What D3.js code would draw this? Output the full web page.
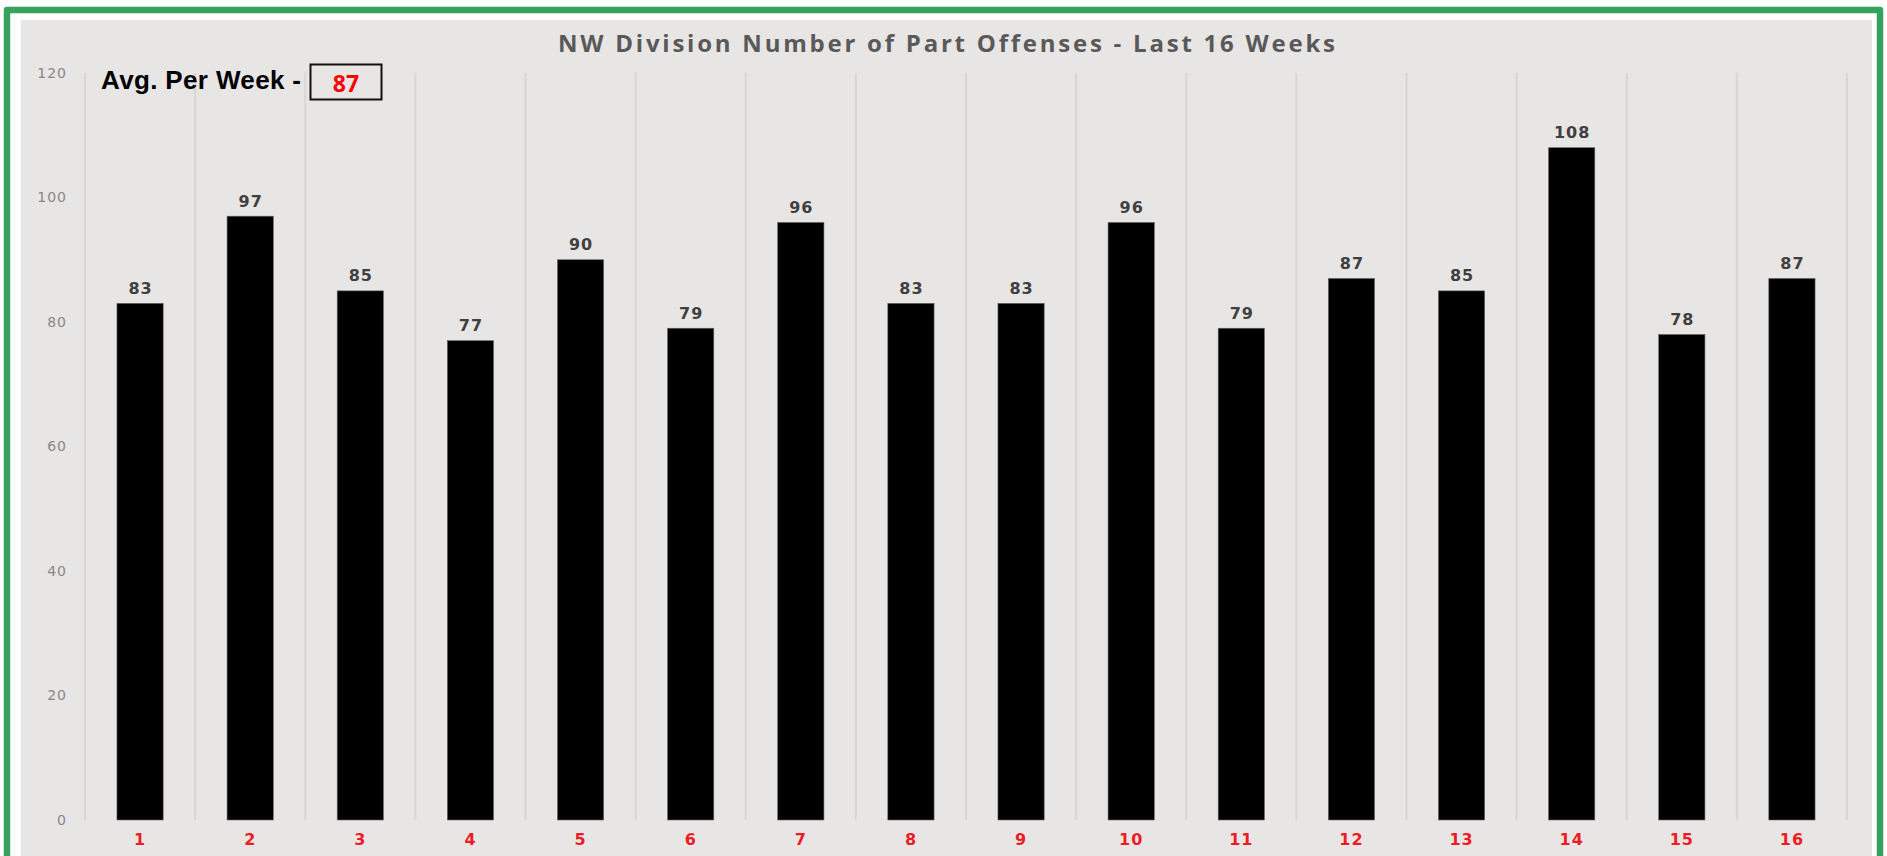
<!DOCTYPE html>
<html>
<head>
<meta charset="utf-8">
<script src="https://cdn.jsdelivr.net/npm/d3@7"></script>
<style>
   html, body { margin: 0; padding: 0; background: #ffffff; }
   svg { display: block; }
</style>
</head>
<body>
<div id="chart"></div>
<script>
"use strict";

const weeks = ["1", "2", "3", "4", "5", "6", "7", "8", "9", "10", "11", "12", "13", "14", "15", "16"];
const offenses = [83, 97, 85, 77, 90, 79, 96, 83, 83, 96, 79, 87, 85, 108, 78, 87];
const yTicks = [0, 20, 40, 60, 80, 100, 120];
const chartTitle = "NW Division Number of Part Offenses - Last 16 Weeks";
const avgLabel = "Avg. Per Week -";
const avgValue = "87";

(function () {
   const width = 1887;
   const height = 856;
   const plotLeft = 85;
   const plotRight = 1847;
   const plotTop = 73;
   const plotBottom = 820;

   const svg = d3.select("#chart").append("svg")
      .attr("width", width)
      .attr("height", height);

   // grey chart area
   svg.append("rect")
      .attr("x", 21)
      .attr("y", 20)
      .attr("width", 1851)
      .attr("height", height - 20)
      .attr("fill", "#e8e5e5");

   // green frame (open at the bottom)
   svg.append("path")
      .attr("d", `M7,${height + 5} L7,10 L1880,10 L1880,${height + 5}`)
      .attr("fill", "none")
      .attr("stroke", "#37a25e")
      .attr("stroke-width", 6.5)
      .attr("stroke-linejoin", "round")
      .attr("stroke-linecap", "round");

   const x = d3.scaleBand()
      .domain(weeks)
      .range([plotLeft, plotRight])
      .paddingInner(0.58)
      .paddingOuter(0.29);

   const y = d3.scaleLinear()
      .domain([0, 120])
      .range([plotBottom, plotTop]);

   const gap = x.step() * x.paddingInner() / 2;

   // vertical separators between weeks
   const sepXs = weeks.map(w => x(w) - gap).concat([x(weeks[weeks.length - 1]) + x.bandwidth() + gap]);
   svg.append("g")
      .selectAll("line")
      .data(sepXs)
      .enter()
      .append("line")
      .attr("x1", d => d)
      .attr("x2", d => d)
      .attr("y1", y(120))
      .attr("y2", y(0))
      .attr("stroke", "#d8d5d5")
      .attr("stroke-width", 2);

   // y axis
   const yAxis = svg.append("g")
      .attr("transform", "translate(67,0)")
      .call(d3.axisLeft(y).tickValues(yTicks).tickSize(0).tickPadding(0));
   yAxis.select(".domain").remove();
   yAxis.selectAll("text")
      .attr("fill", "#8a8888")
      .style("font-family", "'DejaVu Sans', sans-serif")
      .style("font-size", "14px")
      .style("letter-spacing", "1px");

   // x axis
   const xAxis = svg.append("g")
      .attr("transform", `translate(0,${plotBottom})`)
      .call(d3.axisBottom(x).tickSize(0).tickPadding(14));
   xAxis.select(".domain").remove();
   xAxis.selectAll("text")
      .attr("fill", "#ee1c25")
      .style("font-family", "'DejaVu Sans', sans-serif")
      .style("font-weight", "bold")
      .style("font-size", "16px")
      .style("letter-spacing", "1px");

   // bars
   svg.append("g")
      .selectAll("rect")
      .data(offenses)
      .enter()
      .append("rect")
      .attr("x", (d, i) => x(weeks[i]))
      .attr("y", d => y(d))
      .attr("width", x.bandwidth())
      .attr("height", d => y(0) - y(d))
      .attr("fill", "#000000")
      .attr("stroke", "#6a6a6a")
      .attr("stroke-width", 0.6);

   // value labels
   svg.append("g")
      .selectAll("text")
      .data(offenses)
      .enter()
      .append("text")
      .attr("x", (d, i) => x(weeks[i]) + x.bandwidth() / 2 + 0.5)
      .attr("y", d => y(d) - 9.5)
      .attr("text-anchor", "middle")
      .attr("fill", "#404040")
      .style("font-family", "'DejaVu Sans', sans-serif")
      .style("font-weight", "bold")
      .style("font-size", "16px")
      .style("letter-spacing", "1px")
      .text(d => d);

   // title, stretched to the width seen in the picture
   const title = svg.append("text")
      .attr("x", 558)
      .attr("y", 52)
      .attr("fill", "#595959")
      .style("font-family", "'Open Sans', sans-serif")
      .style("font-weight", "bold")
      .style("font-size", "24px")
      .text(chartTitle);
   fitWidth(title, 777);

   // average box
   const avgText = svg.append("text")
      .attr("x", 101)
      .attr("y", 89)
      .attr("fill", "#000000")
      .style("font-family", "'Liberation Sans', Arial, sans-serif")
      .style("font-weight", "bold")
      .style("font-size", "26px")
      .text(avgLabel);
   fitWidth(avgText, 200);

   svg.append("rect")
      .attr("x", 310.5)
      .attr("y", 64.5)
      .attr("width", 71)
      .attr("height", 35)
      .attr("fill", "none")
      .attr("stroke", "#111111")
      .attr("stroke-width", 2);

   svg.append("text")
      .attr("x", 346)
      .attr("y", 92)
      .attr("text-anchor", "middle")
      .attr("fill", "#ff0000")
      .style("font-family", "'Open Sans', sans-serif")
      .style("font-weight", "bold")
      .style("font-size", "23px")
      .text(avgValue);

   function fitWidth(sel, target) {
      const node = sel.node();
      const n = node.getNumberOfChars();
      const w = node.getComputedTextLength();
      if (n > 1) {
         sel.style("letter-spacing", `${(target - w) / (n - 1)}px`);
      }
   }
})();
</script>
</body>
</html>
